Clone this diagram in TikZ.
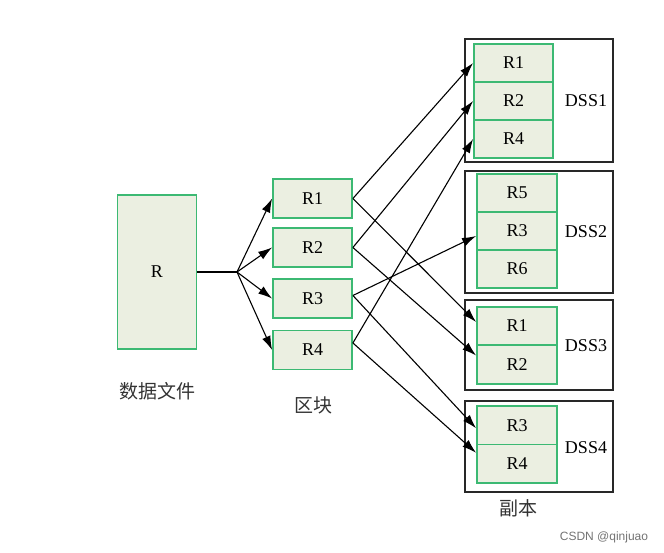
\documentclass[tikz,border=0pt]{standalone}
\usepackage{fontspec}
\setmainfont{Liberation Serif}
\newfontfamily\cjk{Noto Sans CJK SC}
\newfontfamily\wm{Liberation Sans}
\usetikzlibrary{arrows.meta}
\definecolor{gbord}{RGB}{60,185,115}
\definecolor{gfill}{RGB}{235,239,225}
\definecolor{dss}{RGB}{40,40,40}
\tikzset{
  gbox/.style={draw=gbord, fill=gfill, line width=1.8pt, inner sep=0pt,
    minimum width=79pt, font=\fontsize{18}{18}\selectfont},
  outer/.style={draw=dss, line width=1.1pt, inner sep=0pt, minimum width=148pt},
  lbl/.style={inner sep=0pt, font=\fontsize{18}{18}\selectfont},
  cn/.style={inner sep=0pt, font=\cjk\fontsize{19}{19}\selectfont, text=black!80},
  arr/.style={line width=1.1pt, -{Latex[length=14pt,width=9pt]}},
  ln/.style={line width=1.1pt}
}
\begin{document}
\begin{tikzpicture}[x=1pt,y=-1pt]
\useasboundingbox (0,0) rectangle (664,553);
% data file
\node[gbox, minimum height=154pt] (R) at (157,272) {R};
\node[cn] (lr) at (157,391) {数据文件};
% blocks
\node[gbox, minimum height=39pt] (b1) at (312.5,198.5) {R1};
\node[gbox, minimum height=39pt] (b2) at (312.5,247.5) {R2};
\node[gbox, minimum height=39pt] (b3) at (312.5,298.5) {R3};
\node[gbox, minimum height=39pt] (b4) at (312.5,350) {R4};
\node[cn] (lb) at (313,405) {区块};
% DSS outers
\node[outer, minimum height=123pt] (o1) at (539,100.5) {};
\node[outer, minimum height=122pt] (o2) at (539,232) {};
\node[outer, minimum height=90pt] (o3) at (539,345) {};
\node[outer, minimum height=91pt] (o4) at (539,446.5) {};
% DSS1 cells
\node[gbox, minimum height=38pt] (d1r1) at (513.5,63) {R1};
\node[gbox, minimum height=38pt] (d1r2) at (513.5,101) {R2};
\node[gbox, minimum height=38pt] (d1r4) at (513.5,139) {R4};
% DSS2 cells
\node[gbox, minimum height=38pt, minimum width=80pt] (d2r5) at (517,193) {R5};
\node[gbox, minimum height=38pt, minimum width=80pt] (d2r3) at (517,231) {R3};
\node[gbox, minimum height=38pt, minimum width=80pt] (d2r6) at (517,269) {R6};
% DSS3 cells
\node[gbox, minimum height=38.5pt, minimum width=80pt] (d3r1) at (517,326) {R1};
\node[gbox, minimum height=38.5pt, minimum width=80pt] (d3r2) at (517,364.5) {R2};
% DSS4 cells
\node[gbox, minimum height=38.5pt, minimum width=80pt] (d4r3) at (517,425.25) {R3};
\node[gbox, minimum height=38.5pt, minimum width=80pt] (d4r4) at (517,463.75) {R4};
% labels
\node[lbl] (l1) at (586,101) {DSS1};
\node[lbl] (l2) at (586,232) {DSS2};
\node[lbl] (l3) at (586,346) {DSS3};
\node[lbl] (l4) at (586,448) {DSS4};
\node[cn] (lc) at (518,508) {副本};
\node[inner sep=0pt, font=\wm\fontsize{12}{12}\selectfont, text=black!55] (wm) at (604,537) {CSDN @qinjuao};
% fan-out
\coordinate (br) at (237,272);
\draw[ln] (R.east) -- (br);
\draw[arr] (br) -- (b1.west);
\draw[arr] (br) -- (b2.west);
\draw[arr] (br) -- (b3.west);
\draw[arr] (br) -- (b4.west);
% replication arrows
\draw[arr] (b1.east) -- (d1r1.west);
\draw[arr] (b1.east) -- ([yshift=4pt]d3r1.west);
\draw[arr] (b2.east) -- (d1r2.west);
\draw[arr] (b2.east) -- ([yshift=9pt]d3r2.west);
\draw[arr] ([yshift=3pt]b3.east) -- ([yshift=-5pt]d2r3.west);
\draw[arr] ([yshift=3pt]b3.east) -- ([yshift=-3pt]d4r3.west);
\draw[arr] ([yshift=7pt]b4.east) -- (d1r4.west);
\draw[arr] ([yshift=7pt]b4.east) -- ([yshift=11pt]d4r4.west);
\end{tikzpicture}
\end{document}
